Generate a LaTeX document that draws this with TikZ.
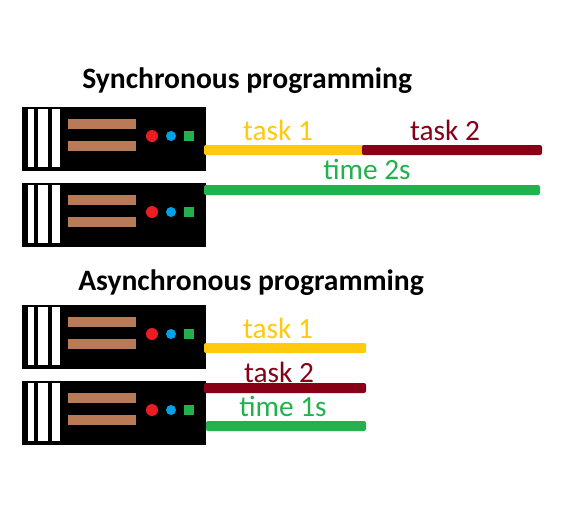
\documentclass[tikz,border=0pt]{standalone}
\usepackage{fontspec}
\setmainfont{Carlito}
\definecolor{taskyellow}{HTML}{FFC90E}
\definecolor{taskmaroon}{HTML}{880015}
\definecolor{taskgreen}{HTML}{22B14C}
\definecolor{ledred}{HTML}{ED1C24}
\definecolor{ledblue}{HTML}{00A2E8}
\definecolor{slotbrown}{HTML}{B97A57}
\tikzset{
  titletext/.style={font=\bfseries\fontsize{22.2}{25}\selectfont,anchor=west,inner sep=0pt},
  tasktext/.style={font=\fontsize{22}{25}\selectfont,inner sep=0pt},
  bar/.style={rounded corners=1.5}
}
\begin{document}
\begin{tikzpicture}[x=0.75pt,y=-0.75pt]
  \useasboundingbox (0,0) rectangle (561,504);

  %servers
  \foreach \y in {107,183,305,381} {
   \begin{scope}[yshift=-0.75*\y]
    \fill[black] (22,0) rectangle (206,64);
    \foreach \a/\b in {28/34,38/48,52/60} {
     \fill[white] (\a,2) rectangle (\b,60);
    }
    \fill[slotbrown] (68,12) rectangle (136,22);
    \fill[slotbrown] (68,34) rectangle (136,44);
    \fill[ledred] (152,29) circle (6);
    \fill[ledblue] (171,29) circle (5);
    \fill[taskgreen] (184,24) rectangle (194,34);
   \end{scope}
  }

  %synchronous
  \node[titletext] (synctitle) at (82,81) {Synchronous programming};
  \node[tasktext,text=taskyellow] (synctask1) at (278,130) {task 1};
  \node[tasktext,text=taskmaroon] (synctask2) at (445,130) {task 2};
  \node[tasktext,text=taskgreen] (synctime) at (367,169) {time 2s};
  \fill[bar,taskyellow] (204,145) rectangle (366,155);
  \fill[bar,taskmaroon] (362,145) rectangle (542,155);
  \fill[bar,taskgreen] (204,185) rectangle (540,195);

  %asynchronous
  \node[titletext] (asynctitle) at (78,283) {Asynchronous programming};
  \node[tasktext,text=taskyellow] (asynctask1) at (278,328) {task 1};
  \node[tasktext,text=taskmaroon] (asynctask2) at (279,372) {task 2};
  \node[tasktext,text=taskgreen] (asynctime) at (283,406) {time 1s};
  \fill[bar,taskyellow] (204,343) rectangle (366,353);
  \fill[bar,taskmaroon] (204,383) rectangle (366,393);
  \fill[bar,taskgreen] (206,421) rectangle (366,431);
\end{tikzpicture}
\end{document}
